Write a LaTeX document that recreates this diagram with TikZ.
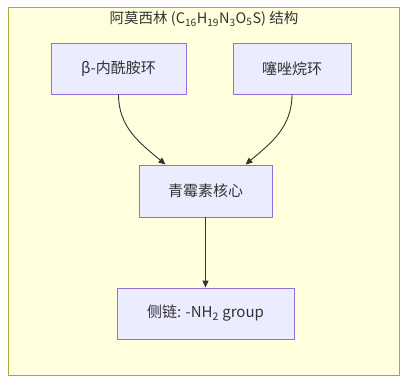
\documentclass[tikz,border=0pt]{standalone}
\usepackage{fontspec}
\setmainfont{Noto Sans CJK SC}
\usepackage{tikz}
\usetikzlibrary{arrows.meta}
\usetikzlibrary{positioning, calc}
\definecolor{rahmen}{RGB}{170,170,51}
\definecolor{hinter}{RGB}{255,255,222}
\definecolor{knoten}{RGB}{236,236,255}
\definecolor{knotenrand}{RGB}{147,112,219}
\definecolor{linie}{RGB}{51,51,51}
\tikzset{>={Triangle[length=7pt, width=6pt]}}
\tikzset{teil/.style={draw=knotenrand, fill=knoten, line width=0.9pt, minimum height=51pt, inner sep=0pt, font=\fontsize{15}{17}\selectfont, text=linie}}
\tikzset{kante/.style={->, draw=linie, line width=0.9pt}}

\begin{document}
\begin{tikzpicture}[x=1pt, y=-1pt]
	\useasboundingbox (0,0) rectangle (408,384);

	\draw[rahmen, fill=hinter, line width=0.9pt] (8,7) rectangle (399,375);
	\node[text=linie, font=\fontsize{14.5}{16}\selectfont] (titel) at (204,19) {阿莫西林 (C\textsubscript{16}H\textsubscript{19}N\textsubscript{3}O\textsubscript{5}S) 结构};

	\node[teil, minimum width=135pt] (lactam) at (118.5,68.5) {β-内酰胺环};
	\node[teil, minimum width=118pt] (thiazol) at (292,68.5) {噻唑烷环};
	\node[teil, minimum width=133pt, minimum height=52pt] (kern) at (205.5,191) {青霉素核心};
	\node[teil, minimum width=177pt] (seite) at (205.5,313.5) {侧链: -NH\textsubscript{2} group};

	\draw[kante] (lactam.south) to[out=-90, in=140] ([xshift=-40pt]kern.north);
	\draw[kante] (thiazol.south) to[out=-90, in=40] ([xshift=40pt]kern.north);
	\draw[kante] (kern) -- (seite);
\end{tikzpicture}
\end{document}
